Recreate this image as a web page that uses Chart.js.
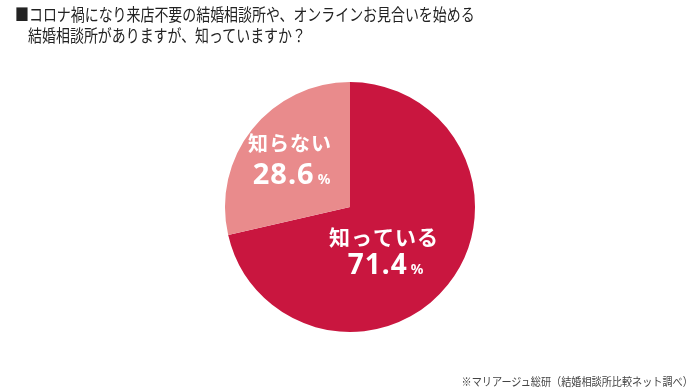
<!DOCTYPE html>
<html lang="ja">
<head>
<meta charset="utf-8">
<script src="https://cdn.jsdelivr.net/npm/chart.js@4"></script>
<style>
  html, body { margin: 0; padding: 0; background: #fff; }
  #wrap { position: relative; width: 700px; height: 391px; overflow: hidden; }
  #grafico { position: absolute; left: 0; top: 0; }
  .titulo {
    position: absolute; left: 15px; top: 3px; margin: 0;
    font-family: "Noto Sans CJK JP", sans-serif; font-weight: 400;
    font-size: 17px; line-height: 21px; color: #222;
    transform: scaleX(0.82); transform-origin: left top; white-space: nowrap;
  }
  .titulo span { padding-left: 16px; }
  .fuente {
    position: absolute; right: 7px; top: 373px;
    font-family: "Noto Sans CJK JP", sans-serif; font-size: 11.5px; color: #444;
    transform: scaleX(0.88); transform-origin: right top; white-space: nowrap;
  }
</style>
</head>
<body>
<div id="wrap">
  <canvas id="grafico" width="700" height="391"></canvas>
  <div class="titulo">■コロナ禍になり来店不要の結婚相談所や、オンラインお見合いを始める<br><span>結婚相談所がありますが、知っていますか？</span></div>
  <div class="fuente">※マリアージュ総研（結婚相談所比較ネット調べ）</div>
</div>
<script>
// DATOS:
const categorias = ["知っている", "知らない"];
const valores = [71.4, 28.6];
const colores = ["#C9163F", "#E98B8C"];

// desplazamiento de cada etiqueta respecto al centro del pie (en px)
const posEtiquetas = [
  { dx: 34, dy: 38 },
  { dx: -60, dy: -56 }
];

// PLUGIN: etiquetas dentro de cada porción
const etiquetasPie = {
  id: "etiquetasPie",
  afterDatasetsDraw(chart) {
    const ctx = chart.ctx;
    const arco = chart.getDatasetMeta(0).data[0];
    const cx = arco.x, cy = arco.y;
    ctx.save();
    ctx.fillStyle = "#fff";
    ctx.textBaseline = "alphabetic";
    categorias.forEach((nombre, i) => {
      const x = cx + posEtiquetas[i].dx;
      const y = cy + posEtiquetas[i].dy;
      const grande = i === 0;
      ctx.font = "bold " + (grande ? 21 : 20) + "px 'Noto Sans CJK JP'";
      ctx.textAlign = "center";
      ctx.letterSpacing = "1px";
      ctx.fillText(nombre, x, y);

      const num = valores[i].toFixed(1);
      ctx.font = "bold " + (grande ? 28 : 29) + "px 'Noto Sans'";
      const anchoNum = ctx.measureText(num).width;
      ctx.font = "bold 14px 'Noto Sans'";
      const anchoPct = ctx.measureText("%").width;
      const total = anchoNum + 3 + anchoPct;
      const x0 = x - total / 2 + 2;
      ctx.textAlign = "left";
      ctx.font = "bold " + (grande ? 28 : 29) + "px 'Noto Sans'";
      ctx.fillText(num, x0, y + (grande ? 29 : 33));
      ctx.font = "bold 14px 'Noto Sans'";
      ctx.fillText("%", x0 + anchoNum + 3, y + (grande ? 29 : 33));
    });
    ctx.restore();
  }
};

new Chart(document.getElementById("grafico"), {
  type: "pie",
  data: {
    labels: categorias,
    datasets: [{
      data: valores,
      backgroundColor: colores,
      borderWidth: 0
    }]
  },
  options: {
    responsive: false,
    animation: false,
    layout: { padding: { top: 82, bottom: 59, left: 0, right: 0 } },
    plugins: {
      legend: { display: false },
      tooltip: { enabled: false }
    }
  },
  plugins: [etiquetasPie]
});
</script>
</body>
</html>
